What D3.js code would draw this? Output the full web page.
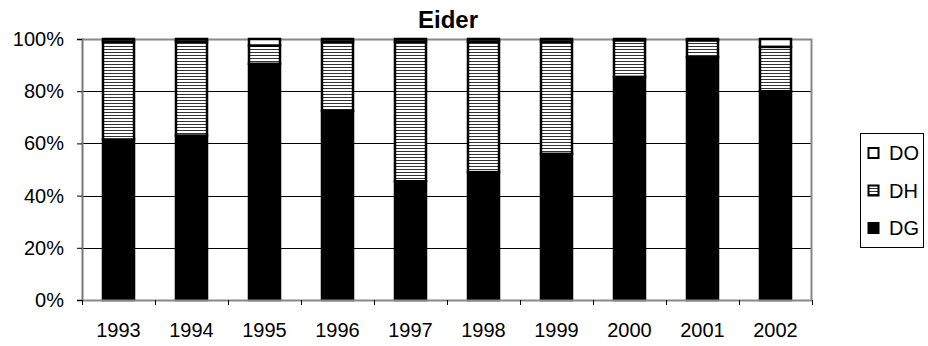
<!DOCTYPE html>
<html>
<head>
<meta charset="utf-8">
<script src="https://cdn.jsdelivr.net/npm/d3@7"></script>
<style>
  body { margin: 0; background: #fff; }
  svg text { font-family: "Liberation Sans", Arial, sans-serif; fill: #000; }
</style>
</head>
<body>
<div id="chart"></div>
<script>
// Eider - share of DG / DH / DO per year (percent)
var years = ["1993", "1994", "1995", "1996", "1997", "1998", "1999", "2000", "2001", "2002"];
var seriesNames = ["DG", "DH", "DO"];
var dgValues = [61.5, 63, 90.5, 72.5, 45.5, 49, 56, 85.5, 93, 80];
var dhValues = [37.5, 36, 7, 26.5, 53.5, 50, 43, 14, 6.5, 17];
var doValues = [1, 1, 2.5, 1, 1, 1, 1, 0.5, 0.5, 3];
var yTicks = [0, 20, 40, 60, 80, 100];

var width = 928, height = 346;
var margin = { top: 39, left: 82, right: 116, bottom: 46 };
var plotW = width - margin.left - margin.right;
var plotH = height - margin.top - margin.bottom;

var svg = d3.select('#chart').append('svg')
  .attr('width', width)
  .attr('height', height);

var defs = svg.append('defs');
var hatch = defs.append('pattern')
  .attr('id', 'hatch')
  .attr('patternUnits', 'userSpaceOnUse')
  .attr('width', 4).attr('height', 3);
hatch.append('rect').attr('width', 4).attr('height', 3).attr('fill', '#fff');
hatch.append('rect').attr('y', 1).attr('width', 4).attr('height', 1).attr('fill', '#333');

var fills = { DG: '#000', DH: 'url(#hatch)', DO: '#fff' };

var rows = years.map((y, i) => ({ year: y, DG: dgValues[i], DH: dhValues[i], DO: doValues[i] }));
var stacked = d3.stack().keys(seriesNames)(rows);

const x = d3.scaleBand().domain(years).range([0, plotW]).paddingInner(0.575).paddingOuter(0.2875);
const y = d3.scaleLinear().domain([0, 100]).range([plotH, 0]);

const g = svg.append('g').attr('transform', `translate(${margin.left},${margin.top})`);

// gridlines
g.selectAll('.grid').data(yTicks.filter(d => d > 0 && d < 100)).enter().append('line')
  .attr('x1', 0).attr('x2', plotW)
  .attr('y1', d => Math.round(y(d)) + 0.5).attr('y2', d => Math.round(y(d)) + 0.5)
  .attr('stroke', '#000').attr('stroke-width', 1);

// plot border (top and right)
g.append('path')
  .attr('d', `M0,0.5H${plotW - 0.5}V${plotH}`)
  .attr('fill', 'none').attr('stroke', '#888').attr('stroke-width', 2);

// bars
stacked.forEach(s => {
  g.append('g').selectAll('rect').data(s).enter().append('rect')
    .attr('x', d => x(d.data.year))
    .attr('width', x.bandwidth())
    .attr('y', d => y(d[1]))
    .attr('height', d => y(d[0]) - y(d[1]))
    .attr('fill', fills[s.key])
    .attr('stroke', '#000')
    .attr('stroke-width', 2.5);
});

// Y axis
const yAxis = g.append('g')
  .call(d3.axisLeft(y).tickValues(yTicks).tickFormat(d => d + '%').tickSize(5).tickPadding(13));
yAxis.select('.domain').attr('stroke', '#777').attr('stroke-width', 2);
yAxis.selectAll('.tick line').attr('stroke', '#000');
yAxis.selectAll('text').style('font-size', '20px');

// X axis
const xAxis = g.append('g').attr('transform', `translate(0,${plotH})`)
  .call(d3.axisBottom(x).tickSize(0).tickPadding(23));
xAxis.select('.domain').attr('stroke', '#888').attr('stroke-width', 2);
xAxis.selectAll('text').style('font-size', '20px');
const step = x.step();
g.append('g').selectAll('line').data(d3.range(years.length + 1)).enter().append('line')
  .attr('x1', i => Math.round(i * step) + 0.5).attr('x2', i => Math.round(i * step) + 0.5)
  .attr('y1', plotH).attr('y2', plotH + 5)
  .attr('stroke', '#000');

// title
svg.append('text')
  .attr('x', margin.left + plotW / 2 + 1).attr('y', 28)
  .attr('text-anchor', 'middle')
  .style('font-size', '24px').style('font-weight', 'bold')
  .text('Eider');

// legend
const legend = svg.append('g').attr('transform', 'translate(860,133)');
legend.append('rect').attr('x', 0.5).attr('y', 0.5).attr('width', 63).attr('height', 114)
  .attr('fill', '#fff').attr('stroke', '#000');
const legendOrder = ["DO", "DH", "DG"];
legendOrder.forEach((k, i) => {
  const ly = 20 + i * 37.5;
  legend.append('rect')
    .attr('x', 8.5).attr('y', ly - 5).attr('width', 10).attr('height', 10)
    .attr('fill', fills[k]).attr('stroke', '#000').attr('stroke-width', 2);
  legend.append('text')
    .attr('x', 29).attr('y', ly + 7)
    .style('font-size', '20px')
    .text(k);
});
</script>
</body>
</html>
